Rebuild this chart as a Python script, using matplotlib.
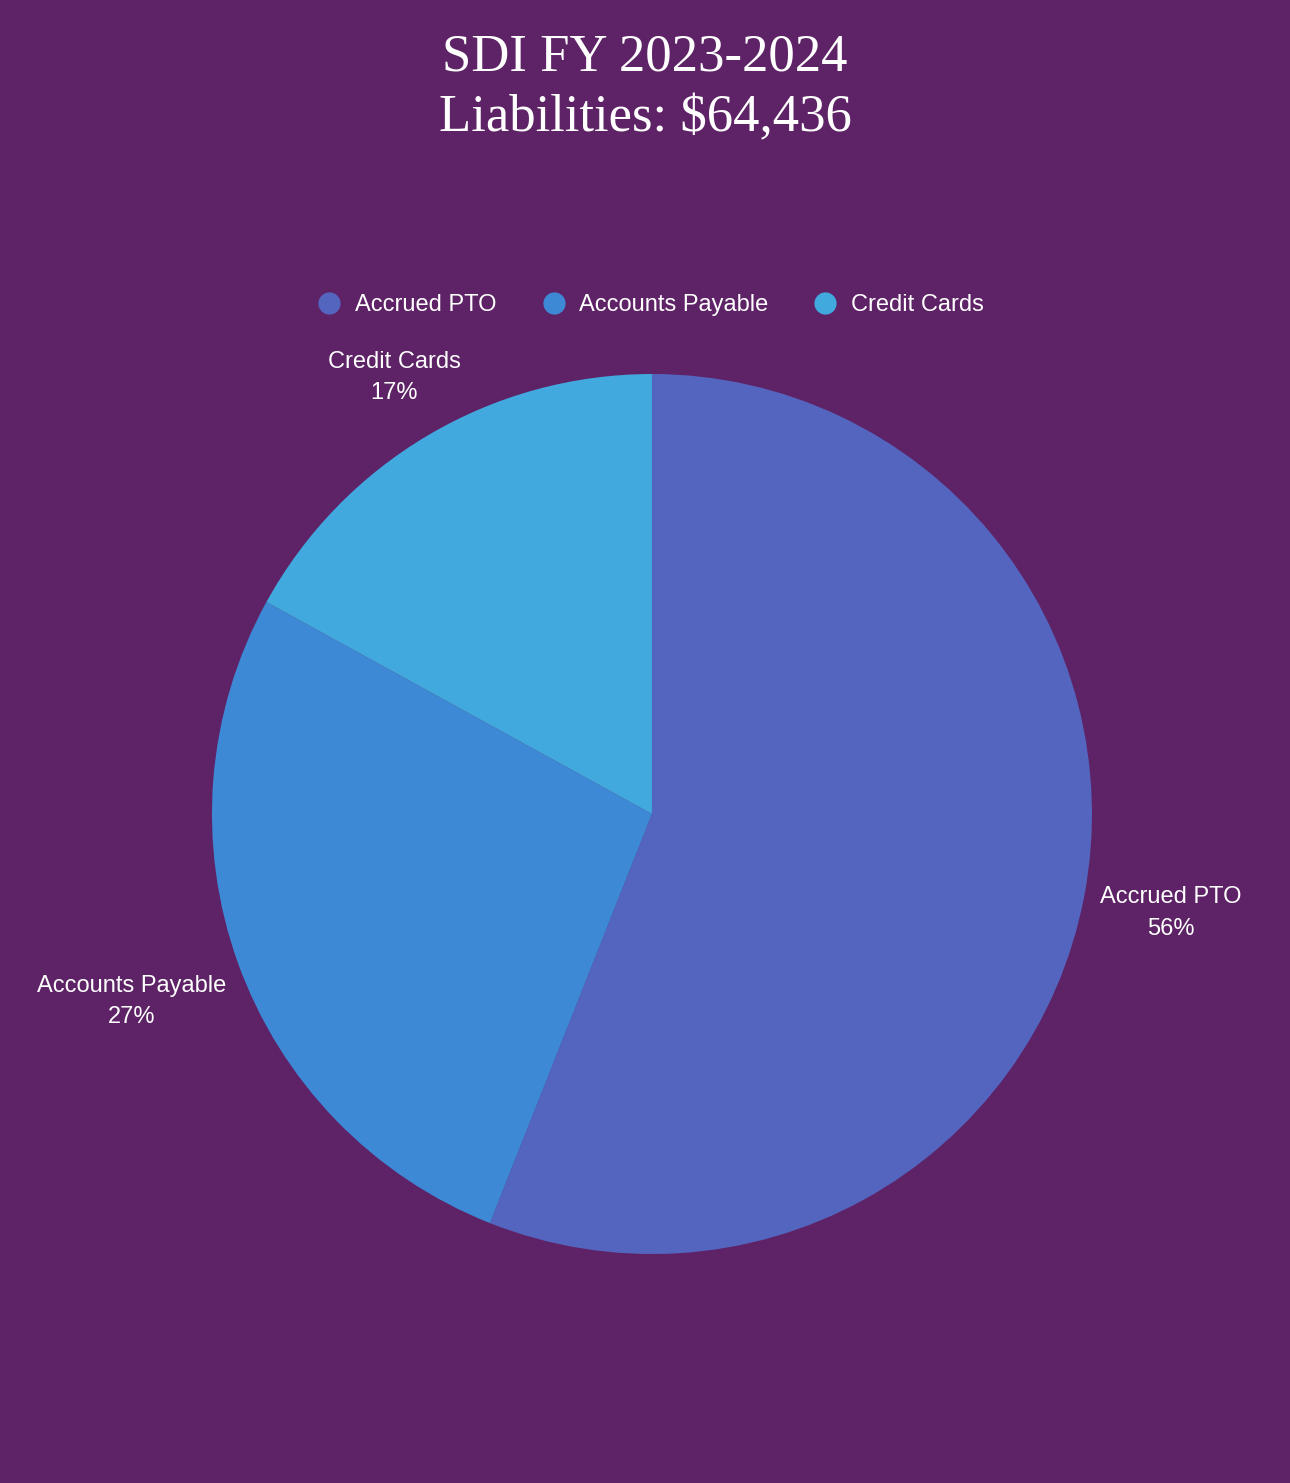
import numpy as np
import matplotlib.pyplot as plt
from matplotlib.lines import Line2D

# liabilities split, percent of total
categories = ['Accrued PTO', 'Accounts Payable', 'Credit Cards']
shares = [56, 27, 17]
total = '$64,436'

colors = ['#5465BF', '#3E89D6', '#41A9DD']
bg = '#5E2266'

fig = plt.figure(figsize=(12.9, 14.83), dpi=100, facecolor=bg)

fig.text(0.5, 0.961, 'SDI FY 2023-2024', ha='center', va='center',
         color='white', fontsize=38, family='Liberation Serif')
fig.text(0.5, 0.920, 'Liabilities: ' + total, ha='center', va='center',
         color='white', fontsize=38, family='Liberation Serif')

ax = fig.add_axes([0.1643, 0.1544, 0.6822, 0.5934])
ax.set_facecolor(bg)
wedges, _ = ax.pie(shares, colors=colors, startangle=90, counterclock=False,
                   radius=1, wedgeprops={'linewidth': 0})
ax.set_xlim(-1, 1)
ax.set_ylim(-1, 1)
ax.set_aspect('equal')
ax.axis('off')

# labels outside each slice
dists = [1.2, 1.258, 1.152]
for w, name, val, d in zip(wedges, categories, shares, dists):
    mid = np.deg2rad((w.theta1 + w.theta2) / 2)
    ax.text(d * np.cos(mid), d * np.sin(mid), f'{name}\n{val}%',
            ha='center', va='center', color='white', fontsize=17,
            family='Liberation Sans', linespacing=1.55, clip_on=False)

handles = [Line2D([], [], marker='o', linestyle='', markersize=16,
                  markerfacecolor=c, markeredgewidth=0) for c in colors]
fig.legend(handles, categories, loc='center', bbox_to_anchor=(0.5, 0.7943),
           ncol=3, frameon=False, handletextpad=0.1, columnspacing=1.4,
           prop={'family': 'Liberation Sans', 'size': 17},
           labelcolor='white')

fig.savefig('out.png', facecolor=bg)
